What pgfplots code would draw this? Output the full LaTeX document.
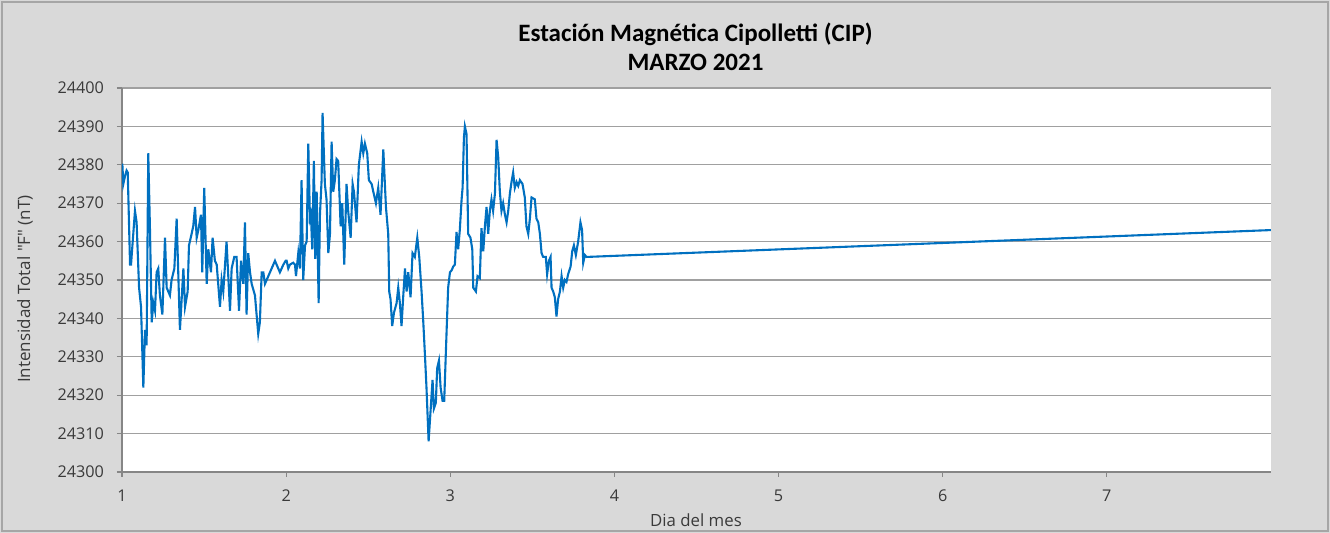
\documentclass[border=0pt]{standalone}
\usepackage{pgfplots}
\pgfplotsset{compat=1.18}
\usepackage{fontspec}
\setmainfont{Carlito}
\newfontfamily\osans{Open Sans}
\definecolor{bg}{HTML}{D9D9D9}
\definecolor{frame}{HTML}{A6A6A6}
\definecolor{gridc}{HTML}{A0A0A0}
\definecolor{axc}{HTML}{868686}
\definecolor{linec}{HTML}{0070C0}
\definecolor{txt}{HTML}{3A3A3A}
\begin{document}
\begin{tikzpicture}
\fill[bg] (0,0) rectangle (665pt,266.5pt);
\draw[frame,line width=0.6pt] (1pt,1pt) rectangle (664pt,265.5pt);
\begin{axis}[
  at={(61pt,30.5pt)}, anchor=south west,
  scale only axis, width=574.5pt, height=192pt,
  xmin=1, xmax=8, ymin=24300, ymax=24400,
  xtick={1,2,3,4,5,6,7},
  ytick={24300,24310,24320,24330,24340,24350,24360,24370,24380,24390,24400},
  scaled ticks=false,
  axis background/.style={fill=white},
  axis x line*=bottom, axis y line*=left,
  axis line style={axc, line width=0.6pt},
  ymajorgrids, major grid style={gridc, line width=0.6pt},
  tick align=outside, major tick length=2.5pt,
  tick style={axc, line width=0.6pt},
  xtick style={axc}, ytick style={axc},
  ticklabel style={font=\osans\fontsize{8.1}{9.5}\selectfont, text=txt},
  /pgf/number format/assume math mode=true,
  /pgf/number format/set thousands separator={},
  /pgf/number format/fixed, /pgf/number format/precision=0,
  xticklabel style={yshift=-3pt},
  yticklabel style={xshift=-3pt},
  clip=true,
]
\addplot[linec, line width=1.05pt, mark=none] coordinates {
(1.002,24380.3) (1.008,24375) (1.018,24377) (1.028,24378.5) (1.035,24378)
(1.049,24354) (1.055,24354) (1.079,24368) (1.089,24365) (1.104,24348)
(1.116,24343) (1.130,24322) (1.140,24337) (1.150,24333) (1.160,24383)
(1.171,24362) (1.181,24339) (1.191,24344) (1.201,24342) (1.211,24352)
(1.221,24353) (1.231,24346) (1.246,24341) (1.262,24361) (1.272,24348)
(1.292,24346) (1.302,24350) (1.319,24353) (1.333,24366) (1.353,24337)
(1.374,24353) (1.384,24343) (1.400,24347) (1.408,24359) (1.424,24362)
(1.434,24364) (1.445,24369) (1.455,24361) (1.465,24363) (1.481,24367)
(1.489,24352) (1.501,24374) (1.516,24349) (1.526,24358) (1.542,24352)
(1.552,24361) (1.566,24355) (1.577,24354) (1.597,24343) (1.607,24350)
(1.617,24347) (1.637,24360) (1.658,24342) (1.668,24353) (1.684,24356)
(1.698,24356) (1.713,24342) (1.725,24355) (1.739,24349) (1.749,24365)
(1.759,24341) (1.769,24357) (1.780,24352) (1.790,24349) (1.810,24346)
(1.830,24336) (1.840,24339) (1.851,24352) (1.861,24352) (1.871,24349)
(1.932,24355) (1.962,24352) (1.983,24354) (1.997,24355)
(2.003,24355) (2.013,24353) (2.023,24354) (2.043,24354.5) (2.054,24354)
(2.060,24351) (2.074,24357) (2.084,24353) (2.094,24376) (2.104,24350)
(2.115,24359) (2.125,24360) (2.135,24385.5) (2.145,24366) (2.151,24367)
(2.159,24358) (2.169,24381) (2.177,24355.5) (2.186,24373) (2.198,24344)
(2.206,24367) (2.216,24376) (2.222,24393.5) (2.236,24375) (2.246,24371)
(2.257,24357) (2.267,24362) (2.277,24386) (2.287,24373) (2.297,24376)
(2.307,24381.5) (2.317,24381) (2.332,24364) (2.342,24370) (2.354,24354)
(2.368,24375) (2.378,24368) (2.393,24361) (2.405,24375) (2.413,24373)
(2.429,24365) (2.443,24380) (2.460,24386) (2.470,24383) (2.480,24385.5)
(2.494,24383) (2.504,24376) (2.521,24375) (2.531,24373) (2.547,24370)
(2.561,24374) (2.575,24367) (2.592,24384) (2.608,24369) (2.622,24362)
(2.628,24347) (2.636,24345) (2.646,24338) (2.657,24341.5) (2.673,24344)
(2.683,24348) (2.693,24344) (2.703,24338) (2.713,24345.5) (2.724,24353)
(2.734,24347) (2.744,24352) (2.758,24345.5) (2.770,24357) (2.784,24356)
(2.799,24361) (2.811,24356) (2.825,24347) (2.835,24339.5) (2.845,24331)
(2.855,24322) (2.868,24308) (2.880,24316) (2.892,24324) (2.900,24316.5)
(2.912,24318) (2.920,24327) (2.931,24329) (2.941,24322) (2.953,24318.5)
(2.963,24318.5)
(2.977,24336) (2.987,24348) (2.998,24352) (3.008,24352.5) (3.018,24353.5)
(3.028,24354) (3.038,24362.5) (3.048,24358) (3.058,24363) (3.069,24371)
(3.075,24374) (3.083,24387) (3.089,24390) (3.099,24388) (3.109,24362)
(3.123,24361) (3.134,24358) (3.140,24348) (3.156,24347) (3.166,24351)
(3.180,24350.5) (3.190,24363.5) (3.201,24357.5) (3.211,24364) (3.221,24369)
(3.231,24362) (3.241,24368) (3.251,24371) (3.261,24368) (3.272,24372.5)
(3.282,24386.5) (3.292,24382) (3.302,24373) (3.312,24368) (3.322,24370)
(3.333,24367) (3.343,24365) (3.353,24368) (3.363,24372.5) (3.373,24375.5)
(3.383,24378) (3.393,24374) (3.404,24375.5) (3.414,24374.5) (3.424,24376)
(3.440,24375) (3.454,24371.5) (3.464,24364) (3.475,24362) (3.485,24366)
(3.495,24371.5) (3.515,24371) (3.525,24366) (3.536,24365) (3.546,24362)
(3.556,24357) (3.566,24356) (3.582,24356) (3.590,24351.5) (3.601,24355)
(3.611,24356) (3.617,24348) (3.627,24347) (3.637,24345.5) (3.647,24340.5)
(3.657,24345) (3.668,24347) (3.678,24351) (3.688,24348) (3.698,24350)
(3.708,24349.5) (3.718,24351.5) (3.733,24353.5) (3.743,24357.5) (3.753,24359)
(3.765,24356.5) (3.779,24360) (3.793,24365) (3.803,24363) (3.810,24354.5)
(3.820,24356.5) (3.830,24356) (8,24363)
};
\end{axis}
\node[font=\bfseries\fontsize{12.5}{14.5}\selectfont, align=center, text=black] at (347.75pt,243.25pt) {Estación Magnética Cipolletti (CIP)\\MARZO 2021};
\node[font=\osans\fontsize{8.4}{9.5}\selectfont, text=txt] at (348pt,6.5pt) {Dia del mes};
\node[font=\osans\fontsize{8.5}{9.5}\selectfont, text=txt, rotate=90] at (12.5pt,122pt) {Intensidad Total "F" (nT)};
\pgfresetboundingbox
\path[use as bounding box] (0,0) rectangle (665pt,266.5pt);
\end{tikzpicture}
\end{document}
